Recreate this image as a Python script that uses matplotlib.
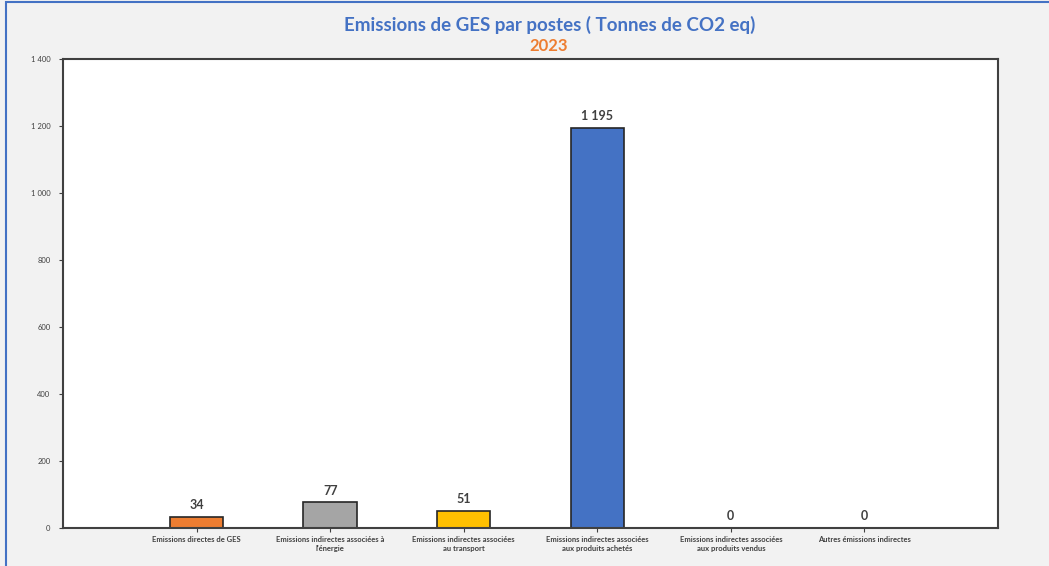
import matplotlib.pyplot as plt
from matplotlib.patches import Rectangle

# Données
categories = [
    "Emissions directes de GES",
    "Emissions indirectes associées à\nl'énergie",
    "Emissions indirectes associées\nau transport",
    "Emissions indirectes associées\naux produits achetés",
    "Emissions indirectes associées\naux produits vendus",
    "Autres émissions indirectes",
]
valeurs = [34, 77, 51, 1195, 0, 0]
couleurs = ["#ED7D31", "#A5A5A5", "#FFC000", "#4472C4", "#5B9BD5", "#70AD47"]
yticks = [0, 200, 400, 600, 800, 1000, 1200, 1400]


def fmt(v):
    return f"{v:,}".replace(",", " ")


plt.rcParams['font.family'] = ['Lato', 'DejaVu Sans']

fig = plt.figure(figsize=(10.49, 5.66), dpi=100, facecolor="#f2f2f2")
ax = fig.add_axes([63 / 1049, 1 - 528 / 566, 935 / 1049, 469 / 566])
ax.set_facecolor("white")

x = list(range(len(valeurs)))
ax.bar(x, valeurs, width=0.4, color=couleurs, edgecolor="#262626", linewidth=1.2, zorder=2)

for xi, v in zip(x, valeurs):
    ax.annotate(fmt(v), (xi, v), xytext=(0, 4), textcoords="offset points",
                ha="center", va="bottom", fontsize=9, fontweight="bold", color="#404040")

ax.set_xlim(-1, 6)
ax.set_ylim(0, 1400)
ax.set_yticks(yticks)
ax.set_yticklabels([fmt(t) for t in yticks], fontsize=5.5, color="#404040")
ax.set_xticks(x)
ax.set_xticklabels(categories, fontsize=5.5, fontweight="bold", color="#404040")
ax.tick_params(axis="y", direction="out", length=3, width=0.8, color="#404040", pad=6)
ax.tick_params(axis="x", direction="out", length=3, width=0.8, color="#404040", pad=3)

for s in ax.spines.values():
    s.set_color("#404040")
    s.set_linewidth(1.5)

fig.text(550 / 1049, 1 - 25 / 566, "Emissions de GES par postes ( Tonnes de CO2 eq)",
         ha="center", va="center", fontsize=13.5, fontweight="bold", color="#4472C4")
fig.text(549 / 1049, 1 - 46 / 566, "2023", ha="center", va="center",
         fontsize=12, fontweight="bold", color="#ED7D31")

# bordure bleue à gauche et en haut
fig.patches.append(Rectangle((6 / 1049, -0.2), 1.2, 1.2 - 1 / 566 * 2, transform=fig.transFigure,
                             fill=False, edgecolor="#4472C4", linewidth=1.5))

fig.savefig("out.png", dpi=100, facecolor=fig.get_facecolor())
